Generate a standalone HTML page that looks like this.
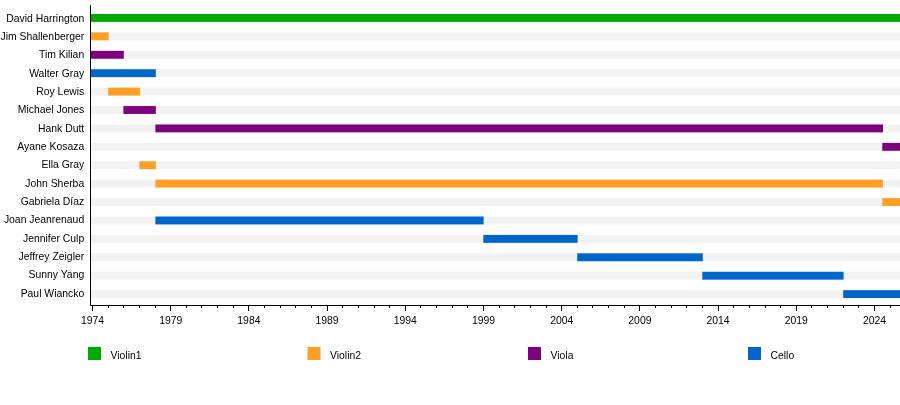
<!DOCTYPE html>
<html><head><meta charset="utf-8"><style>
html,body{margin:0;padding:0;background:#fff;width:900px;height:405px;overflow:hidden}
svg{display:block;will-change:transform}
text{font-family:"Liberation Sans",sans-serif;font-size:10.4px;fill:#000}
</style></head><body>
<svg width="900" height="405" viewBox="0 0 900 405">
<rect width="900" height="405" fill="#fff"/>
<rect x="91" y="14.00" width="809" height="7.9" fill="#f2f2f2"/>
<rect x="91" y="14.00" width="809.00" height="7.9" fill="#00aa00"/>
<text x="84.2" y="21.80" text-anchor="end">David Harrington</text>
<rect x="91" y="32.41" width="809" height="7.9" fill="#f2f2f2"/>
<rect x="91" y="32.41" width="17.60" height="7.9" fill="#ffa023"/>
<text x="84.2" y="40.13" text-anchor="end">Jim Shallenberger</text>
<rect x="91" y="50.82" width="809" height="7.9" fill="#f2f2f2"/>
<rect x="91" y="50.82" width="32.80" height="7.9" fill="#7d007d"/>
<text x="84.2" y="58.46" text-anchor="end">Tim Kilian</text>
<rect x="91" y="69.23" width="809" height="7.9" fill="#f2f2f2"/>
<rect x="91" y="69.23" width="64.80" height="7.9" fill="#0066cc"/>
<text x="84.2" y="76.79" text-anchor="end">Walter Gray</text>
<rect x="91" y="87.64" width="809" height="7.9" fill="#f2f2f2"/>
<rect x="108.2" y="87.64" width="31.80" height="7.9" fill="#ffa023"/>
<text x="84.2" y="95.12" text-anchor="end">Roy Lewis</text>
<rect x="91" y="106.05" width="809" height="7.9" fill="#f2f2f2"/>
<rect x="123.4" y="106.05" width="32.40" height="7.9" fill="#7d007d"/>
<text x="84.2" y="113.45" text-anchor="end">Michael Jones</text>
<rect x="91" y="124.46" width="809" height="7.9" fill="#f2f2f2"/>
<rect x="155.4" y="124.46" width="727.60" height="7.9" fill="#7d007d"/>
<text x="84.2" y="131.78" text-anchor="end">Hank Dutt</text>
<rect x="91" y="142.87" width="809" height="7.9" fill="#f2f2f2"/>
<rect x="882.3" y="142.87" width="17.70" height="7.9" fill="#7d007d"/>
<text x="84.2" y="150.11" text-anchor="end">Ayane Kosaza</text>
<rect x="91" y="161.28" width="809" height="7.9" fill="#f2f2f2"/>
<rect x="139.4" y="161.28" width="16.40" height="7.9" fill="#ffa023"/>
<text x="84.2" y="168.44" text-anchor="end">Ella Gray</text>
<rect x="91" y="179.69" width="809" height="7.9" fill="#f2f2f2"/>
<rect x="155.4" y="179.69" width="727.60" height="7.9" fill="#ffa023"/>
<text x="84.2" y="186.77" text-anchor="end">John Sherba</text>
<rect x="91" y="198.10" width="809" height="7.9" fill="#f2f2f2"/>
<rect x="882.3" y="198.10" width="17.70" height="7.9" fill="#ffa023"/>
<text x="84.2" y="205.10" text-anchor="end">Gabriela Díaz</text>
<rect x="91" y="216.51" width="809" height="7.9" fill="#f2f2f2"/>
<rect x="155.4" y="216.51" width="328.20" height="7.9" fill="#0066cc"/>
<text x="84.2" y="223.43" text-anchor="end">Joan Jeanrenaud</text>
<rect x="91" y="234.92" width="809" height="7.9" fill="#f2f2f2"/>
<rect x="483.3" y="234.92" width="94.30" height="7.9" fill="#0066cc"/>
<text x="84.2" y="241.76" text-anchor="end">Jennifer Culp</text>
<rect x="91" y="253.33" width="809" height="7.9" fill="#f2f2f2"/>
<rect x="577.2" y="253.33" width="125.60" height="7.9" fill="#0066cc"/>
<text x="84.2" y="260.09" text-anchor="end">Jeffrey Zeigler</text>
<rect x="91" y="271.74" width="809" height="7.9" fill="#f2f2f2"/>
<rect x="702.3" y="271.74" width="141.30" height="7.9" fill="#0066cc"/>
<text x="84.2" y="278.42" text-anchor="end">Sunny Yang</text>
<rect x="91" y="290.15" width="809" height="7.9" fill="#f2f2f2"/>
<rect x="843.2" y="290.15" width="56.80" height="7.9" fill="#0066cc"/>
<text x="84.2" y="296.75" text-anchor="end">Paul Wiancko</text>
<rect x="90" y="5" width="1" height="301" fill="#000"/>
<rect x="90" y="305" width="810" height="1" fill="#000"/>
<rect x="92" y="306" width="1" height="5" fill="#000"/>
<text x="92.50" y="323.6" text-anchor="middle">1974</text>
<rect x="108" y="306" width="1" height="2" fill="#000"/>
<rect x="123" y="306" width="1" height="2" fill="#000"/>
<rect x="139" y="306" width="1" height="2" fill="#000"/>
<rect x="155" y="306" width="1" height="2" fill="#000"/>
<rect x="170" y="306" width="1" height="5" fill="#000"/>
<text x="170.70" y="323.6" text-anchor="middle">1979</text>
<rect x="186" y="306" width="1" height="2" fill="#000"/>
<rect x="201" y="306" width="1" height="2" fill="#000"/>
<rect x="217" y="306" width="1" height="2" fill="#000"/>
<rect x="233" y="306" width="1" height="2" fill="#000"/>
<rect x="248" y="306" width="1" height="5" fill="#000"/>
<text x="248.90" y="323.6" text-anchor="middle">1984</text>
<rect x="264" y="306" width="1" height="2" fill="#000"/>
<rect x="280" y="306" width="1" height="2" fill="#000"/>
<rect x="295" y="306" width="1" height="2" fill="#000"/>
<rect x="311" y="306" width="1" height="2" fill="#000"/>
<rect x="327" y="306" width="1" height="5" fill="#000"/>
<text x="327.10" y="323.6" text-anchor="middle">1989</text>
<rect x="342" y="306" width="1" height="2" fill="#000"/>
<rect x="358" y="306" width="1" height="2" fill="#000"/>
<rect x="374" y="306" width="1" height="2" fill="#000"/>
<rect x="389" y="306" width="1" height="2" fill="#000"/>
<rect x="405" y="306" width="1" height="5" fill="#000"/>
<text x="405.30" y="323.6" text-anchor="middle">1994</text>
<rect x="420" y="306" width="1" height="2" fill="#000"/>
<rect x="436" y="306" width="1" height="2" fill="#000"/>
<rect x="452" y="306" width="1" height="2" fill="#000"/>
<rect x="467" y="306" width="1" height="2" fill="#000"/>
<rect x="483" y="306" width="1" height="5" fill="#000"/>
<text x="483.50" y="323.6" text-anchor="middle">1999</text>
<rect x="499" y="306" width="1" height="2" fill="#000"/>
<rect x="514" y="306" width="1" height="2" fill="#000"/>
<rect x="530" y="306" width="1" height="2" fill="#000"/>
<rect x="546" y="306" width="1" height="2" fill="#000"/>
<rect x="561" y="306" width="1" height="5" fill="#000"/>
<text x="561.70" y="323.6" text-anchor="middle">2004</text>
<rect x="577" y="306" width="1" height="2" fill="#000"/>
<rect x="592" y="306" width="1" height="2" fill="#000"/>
<rect x="608" y="306" width="1" height="2" fill="#000"/>
<rect x="624" y="306" width="1" height="2" fill="#000"/>
<rect x="639" y="306" width="1" height="5" fill="#000"/>
<text x="639.90" y="323.6" text-anchor="middle">2009</text>
<rect x="655" y="306" width="1" height="2" fill="#000"/>
<rect x="671" y="306" width="1" height="2" fill="#000"/>
<rect x="686" y="306" width="1" height="2" fill="#000"/>
<rect x="702" y="306" width="1" height="2" fill="#000"/>
<rect x="718" y="306" width="1" height="5" fill="#000"/>
<text x="718.10" y="323.6" text-anchor="middle">2014</text>
<rect x="733" y="306" width="1" height="2" fill="#000"/>
<rect x="749" y="306" width="1" height="2" fill="#000"/>
<rect x="765" y="306" width="1" height="2" fill="#000"/>
<rect x="780" y="306" width="1" height="2" fill="#000"/>
<rect x="796" y="306" width="1" height="5" fill="#000"/>
<text x="796.30" y="323.6" text-anchor="middle">2019</text>
<rect x="811" y="306" width="1" height="2" fill="#000"/>
<rect x="827" y="306" width="1" height="2" fill="#000"/>
<rect x="843" y="306" width="1" height="2" fill="#000"/>
<rect x="858" y="306" width="1" height="2" fill="#000"/>
<rect x="874" y="306" width="1" height="5" fill="#000"/>
<text x="874.50" y="323.6" text-anchor="middle">2024</text>
<rect x="890" y="306" width="1" height="2" fill="#000"/>
<rect x="88" y="347" width="13" height="13" fill="#00aa00"/>
<text x="110.5" y="359">Violin1</text>
<rect x="307.5" y="347" width="13" height="13" fill="#ffa023"/>
<text x="330.0" y="359">Violin2</text>
<rect x="528" y="347" width="13" height="13" fill="#7d007d"/>
<text x="550.5" y="359">Viola</text>
<rect x="748" y="347" width="13" height="13" fill="#0066cc"/>
<text x="770.5" y="359">Cello</text>
</svg>
</body></html>
